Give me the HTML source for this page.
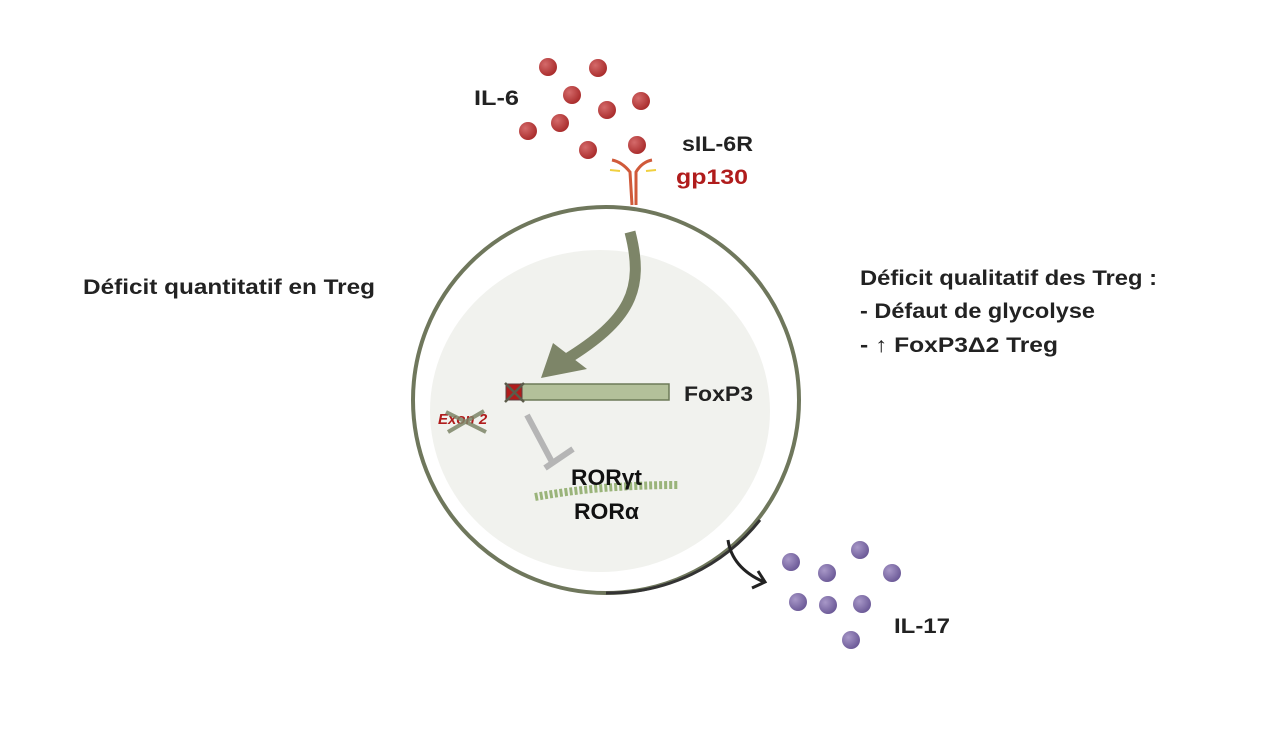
<!DOCTYPE html>
<html><head><meta charset="utf-8"><style>
html,body{margin:0;padding:0;background:#fff;}
svg{display:block;}
text{font-family:"Liberation Sans",sans-serif;font-weight:bold;}
</style></head><body>
<svg width="1280" height="737" viewBox="0 0 1280 737" xmlns="http://www.w3.org/2000/svg">
<defs>
<radialGradient id="rd" cx="0.35" cy="0.35" r="0.7"><stop offset="0" stop-color="#d46a6a"/><stop offset="1" stop-color="#a82a2a"/></radialGradient>
<radialGradient id="pu" cx="0.35" cy="0.35" r="0.7"><stop offset="0" stop-color="#a898c8"/><stop offset="1" stop-color="#6a5896"/></radialGradient>
</defs>
<circle cx="606" cy="400" r="193" fill="#fff" stroke="#6f775c" stroke-width="4"/>
<path d="M 760 520 A 193 193 0 0 1 606 593" fill="none" stroke="#333" stroke-width="3"/>
<ellipse cx="600" cy="411" rx="170" ry="161" fill="#f1f2ee"/>
<path d="M 630 232 C 645 290, 630 320, 565 360" fill="none" stroke="#7d8568" stroke-width="11"/>
<polygon points="541,378 553,343 587,369" fill="#7d8568"/>
<rect x="521" y="384" width="148" height="16" fill="#b3c09a" stroke="#6d7a58" stroke-width="1.5"/>
<rect x="506" y="384" width="16" height="16" fill="#b01c1c" stroke="#5a4040" stroke-width="1"/>
<path d="M505 383 L524 402 M524 383 L505 402" stroke="#5b5b4a" stroke-width="2.5"/>
<text x="684" y="401" font-size="21" fill="#222" textLength="69" lengthAdjust="spacingAndGlyphs">FoxP3</text>
<text x="438" y="424" font-size="15" fill="#b01c1c" font-style="italic">Exon 2</text>
<path d="M446 412 L486 432 M448 432 L484 411" stroke="#7d8568" stroke-width="4" opacity="0.85"/>
<path d="M527 415 L552 462" stroke="#b5b5b5" stroke-width="6"/>
<path d="M545 468 L573 449" stroke="#b5b5b5" stroke-width="6"/>
<path d="M535 497 Q 600 485 678 485" stroke="#9ab47a" stroke-width="8" fill="none" stroke-dasharray="3 2"/>
<text x="571" y="485" font-size="22" fill="#111" textLength="71" lengthAdjust="spacingAndGlyphs">RORγt</text>
<text x="574" y="519" font-size="22" fill="#111" textLength="65" lengthAdjust="spacingAndGlyphs">RORα</text>
<g stroke="#d05a3a" stroke-width="3" fill="none">
<path d="M612 160 Q622 162 630 172 L632 205"/>
<path d="M652 160 Q642 162 636 172 L636 205"/>
</g>
<path d="M610 170 L620 171 M646 171 L656 170" stroke="#f0d040" stroke-width="2"/>
<g fill="url(#rd)">
<circle cx="548" cy="67" r="9"/><circle cx="598" cy="68" r="9"/><circle cx="572" cy="95" r="9"/>
<circle cx="607" cy="110" r="9"/><circle cx="641" cy="101" r="9"/><circle cx="528" cy="131" r="9"/>
<circle cx="560" cy="123" r="9"/><circle cx="588" cy="150" r="9"/><circle cx="637" cy="145" r="9"/>
</g>
<text x="474" y="105" font-size="21" fill="#222" textLength="45" lengthAdjust="spacingAndGlyphs">IL-6</text>
<text x="682" y="151" font-size="21" fill="#222" textLength="71" lengthAdjust="spacingAndGlyphs">sIL-6R</text>
<text x="676" y="184" font-size="21" fill="#b01c1c" textLength="72" lengthAdjust="spacingAndGlyphs">gp130</text>
<path d="M728 540 Q 732 568 764 582" stroke="#222" stroke-width="3" fill="none"/>
<path d="M752 588 L765 582 L758 571" stroke="#222" stroke-width="3" fill="none"/>
<g fill="url(#pu)">
<circle cx="791" cy="562" r="9"/><circle cx="827" cy="573" r="9"/><circle cx="860" cy="550" r="9"/>
<circle cx="892" cy="573" r="9"/><circle cx="798" cy="602" r="9"/><circle cx="828" cy="605" r="9"/>
<circle cx="862" cy="604" r="9"/><circle cx="851" cy="640" r="9"/>
</g>
<text x="894" y="633" font-size="21" fill="#222" textLength="56" lengthAdjust="spacingAndGlyphs">IL-17</text>
<text x="83" y="294" font-size="21" fill="#222" textLength="292" lengthAdjust="spacingAndGlyphs">Déficit quantitatif en Treg</text>
<text x="860" y="285" font-size="21" fill="#222" textLength="297" lengthAdjust="spacingAndGlyphs">Déficit qualitatif des Treg :</text>
<text x="860" y="318" font-size="21" fill="#222" textLength="235" lengthAdjust="spacingAndGlyphs">- Défaut de glycolyse</text>
<text x="860" y="352" font-size="21" fill="#222" textLength="198" lengthAdjust="spacingAndGlyphs">- ↑ FoxP3Δ2 Treg</text>
</svg>
</body></html>
